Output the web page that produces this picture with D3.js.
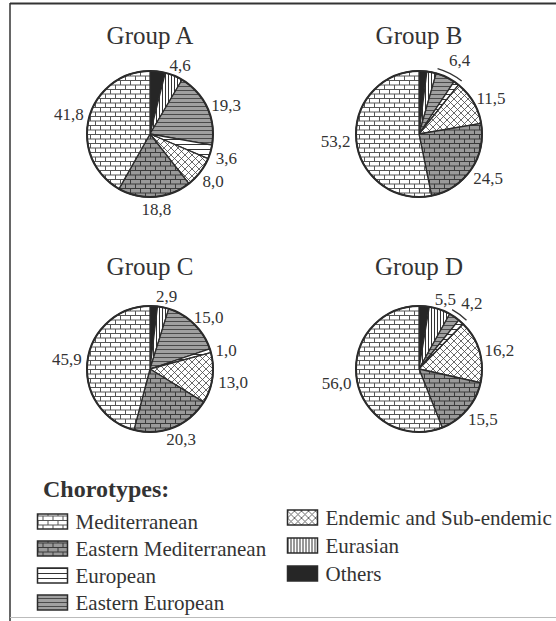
<!DOCTYPE html>
<html>
<head>
<meta charset="utf-8">
<script src="https://cdn.jsdelivr.net/npm/d3@7"></script>
<style>
  body { margin: 0; background: #fff; }
  text { font-family: "Liberation Serif", "Times New Roman", serif; fill: #333; }
</style>
</head>
<body>
<div id="chart"></div>
<script>
// slice order, clockwise from 12 o'clock
const chorotypes = ['Others', 'Eurasian', 'Eastern European', 'European',
  'Endemic and Sub-endemic', 'Eastern Mediterranean', 'Mediterranean']

const groups = ['Group A', 'Group B', 'Group C', 'Group D']

const groupA = [3.9, 4.6, 19.3, 3.6, 8.0, 18.8, 41.8]
const groupB = [2.0, 2.4, 5.0, 1.4, 11.5, 24.5, 53.2]
const groupC = [1.9, 2.9, 15.0, 1.0, 13.0, 20.3, 45.9]
const groupD = [2.6, 5.5, 2.8, 1.4, 16.2, 15.5, 56.0]

// which slices get a number; two indices = one bracketed label
const labelsA = [[1], [2], [3], [4], [5], [6]]
const labelsB = [[2, 3], [4], [5], [6]]
const labelsC = [[1], [2], [3], [4], [5], [6]]
const labelsD = [[1], [2, 3], [4], [5], [6]]

const legendCol1 = ['Mediterranean', 'Eastern Mediterranean', 'European', 'Eastern European']
const legendCol2 = ['Endemic and Sub-endemic', 'Eurasian', 'Others']

const groupValues = [groupA, groupB, groupC, groupD]
const groupLabels = [labelsA, labelsB, labelsC, labelsD]

//BOX
const w = 556
const h = 621
const radius = 63
const colX = [150, 419]
const rowY = [134, 369]
const titleY = [44, 275]

const fmt = d3.formatLocale({ decimal: ',', thousands: '.', grouping: [3], currency: ['', ''] }).format('.1f')

const svg = d3.select('#chart')
  .append('svg')
  .attr('width', w)
  .attr('height', h)

//PATTERNS
const defs = svg.append('defs')

function pattern(id, pw, ph, bg, d, stroke, sw) {
  const p = defs.append('pattern')
    .attr('id', id)
    .attr('patternUnits', 'userSpaceOnUse')
    .attr('width', pw)
    .attr('height', ph)
  p.append('rect').attr('width', pw).attr('height', ph).attr('fill', bg)
  p.append('path').attr('d', d).attr('stroke', stroke).attr('stroke-width', sw).attr('fill', 'none')
}

const brick = 'M0,0.5H10M0,5H10M0.5,0V5M5.5,5V9'
pattern('p-med', 10, 9, '#fff', brick, '#555', 1)
pattern('p-emed', 10, 9, '#9a9a9a', brick, '#3a3a3a', 1)
pattern('p-eu', 4, 5, '#fff', 'M0,0.5H4', '#333', 1)
pattern('p-eeu', 4, 4, '#a0a0a0', 'M0,0.5H4', '#4a4a4a', 1)
pattern('p-end', 7, 7, '#fff', 'M0,0L7,7M7,0L0,7', '#444', 0.8)
pattern('p-eura', 3, 3, '#fff', 'M0.5,0V3', '#333', 1)

const fillFor = {
  'Others': '#262626',
  'Eurasian': 'url(#p-eura)',
  'Eastern European': 'url(#p-eeu)',
  'European': 'url(#p-eu)',
  'Endemic and Sub-endemic': 'url(#p-end)',
  'Eastern Mediterranean': 'url(#p-emed)',
  'Mediterranean': 'url(#p-med)'
}

//FRAME
svg.append('line').attr('x1', 10).attr('x2', w).attr('y1', 3.5).attr('y2', 3.5)
  .attr('stroke', '#333').attr('stroke-width', 2)
svg.append('line').attr('x1', 10).attr('x2', 10).attr('y1', 3).attr('y2', h)
  .attr('stroke', '#333').attr('stroke-width', 1.5)
svg.append('line').attr('x1', 10).attr('x2', w).attr('y1', 617.5).attr('y2', 617.5)
  .attr('stroke', '#bbb').attr('stroke-width', 1)

//PIES
const pie = d3.pie().sort(null).value(d => d)
const arc = d3.arc().innerRadius(0).outerRadius(radius)

groupValues.forEach((values, gi) => {
  const cx = colX[gi % 2]
  const cy = rowY[Math.floor(gi / 2)]
  const slices = pie(values)

  svg.append('text')
    .attr('x', cx)
    .attr('y', titleY[Math.floor(gi / 2)])
    .attr('text-anchor', 'middle')
    .attr('font-size', 25)
    .text(groups[gi])

  const g = svg.append('g').attr('transform', `translate(${cx},${cy})`)

  g.selectAll('path.slice')
    .data(slices)
    .join('path')
    .attr('class', 'slice')
    .attr('d', arc)
    .attr('fill', (d, i) => fillFor[chorotypes[i]])
    .attr('stroke', '#2b2b2b')
    .attr('stroke-width', 1.3)
    .attr('stroke-linejoin', 'round')

  g.append('circle')
    .attr('r', radius)
    .attr('fill', 'none')
    .attr('stroke', '#2b2b2b')
    .attr('stroke-width', 2)

  // labels
  groupLabels[gi].forEach(idx => {
    const a0 = slices[idx[0]].startAngle
    const a1 = slices[idx[idx.length - 1]].endAngle
    const a = (a0 + a1) / 2
    const value = d3.sum(idx, i => values[i])
    const bracket = idx.length > 1

    if (bracket) {
      const p = d3.path()
      p.arc(0, 0, radius + 5, a0 - Math.PI / 2, a1 - Math.PI / 2)
      g.append('path')
        .attr('d', p.toString())
        .attr('fill', 'none')
        .attr('stroke', '#333')
        .attr('stroke-width', 1.3)
    }

    const R = radius + (bracket ? 15 : 6)
    const px = Math.sin(a) * R
    const py = -Math.cos(a) * R
    const t = g.append('text')
      .attr('font-size', 17)
      .attr('dominant-baseline', 'central')
      .text(fmt(value))
    const tw = t.node().getComputedTextLength()
    // right-hand labels sit a touch lower in the original
    t.attr('x', px - tw * (1 - Math.sin(a)) / 2)
      .attr('y', py - Math.cos(a) * 6 + Math.max(0, Math.sin(a)) * 3)
  })
})

//LEGEND
svg.append('text')
  .attr('x', 43)
  .attr('y', 497)
  .attr('font-size', 24)
  .attr('font-weight', 'bold')
  .text('Chorotypes:')

function legendColumn(items, x, y0, gap) {
  const rows = svg.selectAll(null)
    .data(items)
    .enter()
    .append('g')
    .attr('transform', (d, i) => `translate(${x},${y0 + i * gap})`)
  rows.append('rect')
    .attr('x', 0)
    .attr('y', -15)
    .attr('width', 30)
    .attr('height', 15)
    .attr('fill', d => fillFor[d])
    .attr('stroke', '#2b2b2b')
    .attr('stroke-width', 1.5)
  rows.append('text')
    .attr('x', 38)
    .attr('y', 0)
    .attr('font-size', 21)
    .text(d => d)
}

legendColumn(legendCol1, 37.5, 529, 27)
legendColumn(legendCol2, 287.5, 525, 28)
</script>
</body>
</html>
